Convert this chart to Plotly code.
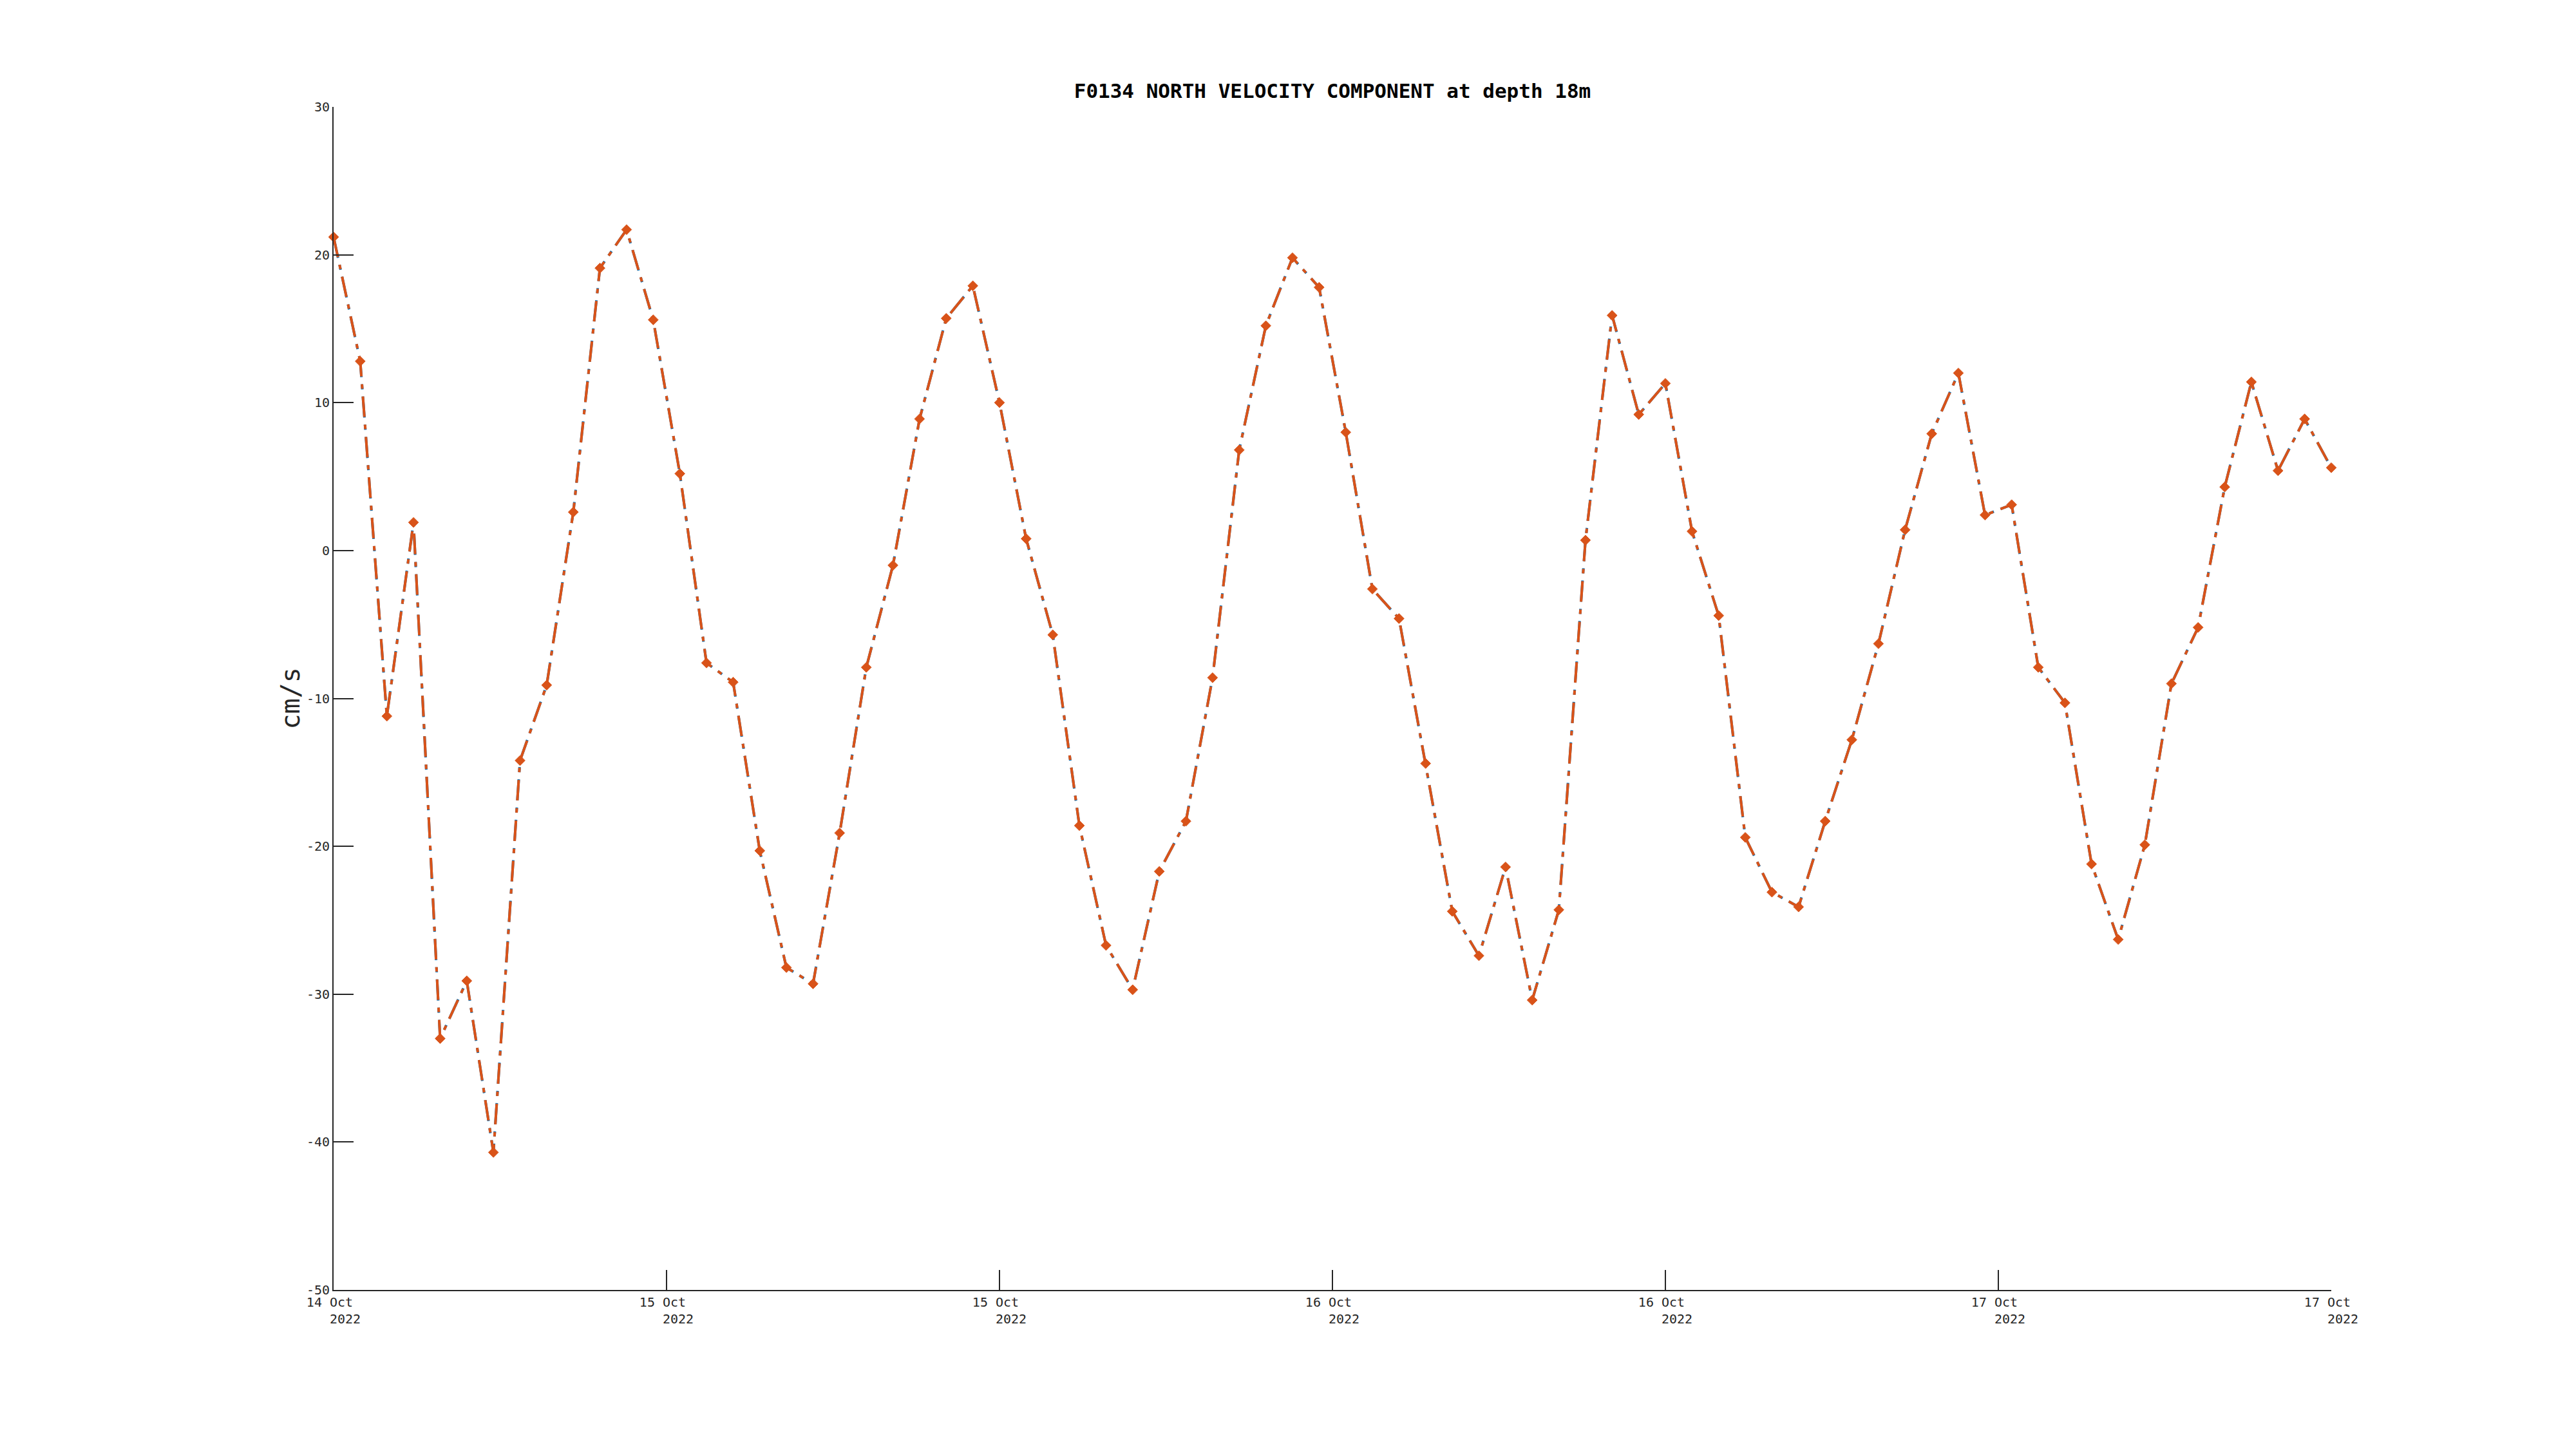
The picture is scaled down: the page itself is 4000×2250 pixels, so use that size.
import plotly.graph_objects as go
import pandas as pd

# ---- data ----
start_time = "2022-10-14 12:00"
n_hours = 76
velocity_north = [
    21.2, 12.8, -11.2, 1.9, -33.0, -29.1, -40.7, -14.2, -9.1, 2.6,
    19.1, 21.7, 15.6, 5.2, -7.6, -8.9, -20.3, -28.2, -29.3, -19.1,
    -7.9, -1.0, 8.9, 15.7, 17.9, 10.0, 0.8, -5.7, -18.6, -26.7,
    -29.7, -21.7, -18.3, -8.6, 6.8, 15.2, 19.8, 17.8, 8.0, -2.6,
    -4.6, -14.4, -24.4, -27.4, -21.4, -30.4, -24.3, 0.7, 15.9, 9.2,
    11.3, 1.3, -4.4, -19.4, -23.1, -24.1, -18.3, -12.8, -6.3, 1.4,
    7.9, 12.0, 2.4, 3.1, -7.9, -10.3, -21.2, -26.3, -19.9, -9.0,
    -5.2, 4.3, 11.4, 5.4, 8.9, 5.6,
]
times = pd.date_range(start_time, periods=n_hours, freq="h")

x_tick_vals = pd.date_range(times[0], times[-1], periods=7)
x_tick_text = ["14 Oct", "15 Oct", "15 Oct", "16 Oct", "16 Oct", "17 Oct", "17 Oct"]
x_tick_year = "2022"
y_tick_vals = [-50, -40, -30, -20, -10, 0, 10, 20, 30]
y_tick_text = [str(v) for v in y_tick_vals]

NB = "\u00a0"
FONT = "DejaVu Sans Mono"
AX = "#262626"

fig = go.Figure()
fig.add_trace(go.Scatter(
    x=times, y=velocity_north, mode="lines",
    line=dict(color="#0072BD", width=4, dash="33px,11px,8px,11px"),
    cliponaxis=False, showlegend=False,
))
fig.add_trace(go.Scatter(
    x=times, y=velocity_north, mode="lines+markers",
    line=dict(color="#D95319", width=4, dash="32px,12px,7px,12px"),
    marker=dict(symbol="diamond", size=12, color="#D95319",
                line=dict(color="#D95319", width=1)),
    cliponaxis=False, showlegend=False,
))

fig.update_layout(
    width=4000, height=2250,
    margin=dict(l=510, r=388, t=158, b=255),
    paper_bgcolor="white", plot_bgcolor="white",
    font=dict(family=FONT, size=20, color=AX),
    title=dict(
        text="<b>F0134 NORTH VELOCITY COMPONENT at depth 18m</b>",
        font=dict(family=FONT, size=31, color="black"),
        x=0.5, xref="paper", xanchor="center",
        y=1 - 133 / 2250, yref="container", yanchor="middle",
    ),
    xaxis=dict(
        range=[times[0], times[-1]],
        tickvals=list(x_tick_vals),
        ticktext=[t + NB + "<br>" + NB * 3 + x_tick_year for t in x_tick_text],
        ticks="inside", ticklen=31, tickwidth=1.5, tickcolor=AX,
        showline=True, linecolor=AX, linewidth=2, mirror=False,
        showgrid=False, zeroline=False,
        tickfont=dict(family=FONT, size=20, color=AX),
    ),
    yaxis=dict(
        range=[-50, 30],
        tickvals=y_tick_vals, ticktext=y_tick_text,
        ticks="inside", ticklen=31, tickwidth=1.5, tickcolor=AX,
        showline=True, linecolor=AX, linewidth=2, mirror=False,
        showgrid=False, zeroline=False,
        tickfont=dict(family=FONT, size=20, color=AX),
    ),
    annotations=[dict(
        text="cm/s", textangle=-90,
        x=(442 - 510) / 3102, xref="paper", xanchor="center",
        y=0.5, yref="paper", yanchor="middle",
        showarrow=False, font=dict(family=FONT, size=40, color=AX),
    )],
)

fig.write_html("out.html")
